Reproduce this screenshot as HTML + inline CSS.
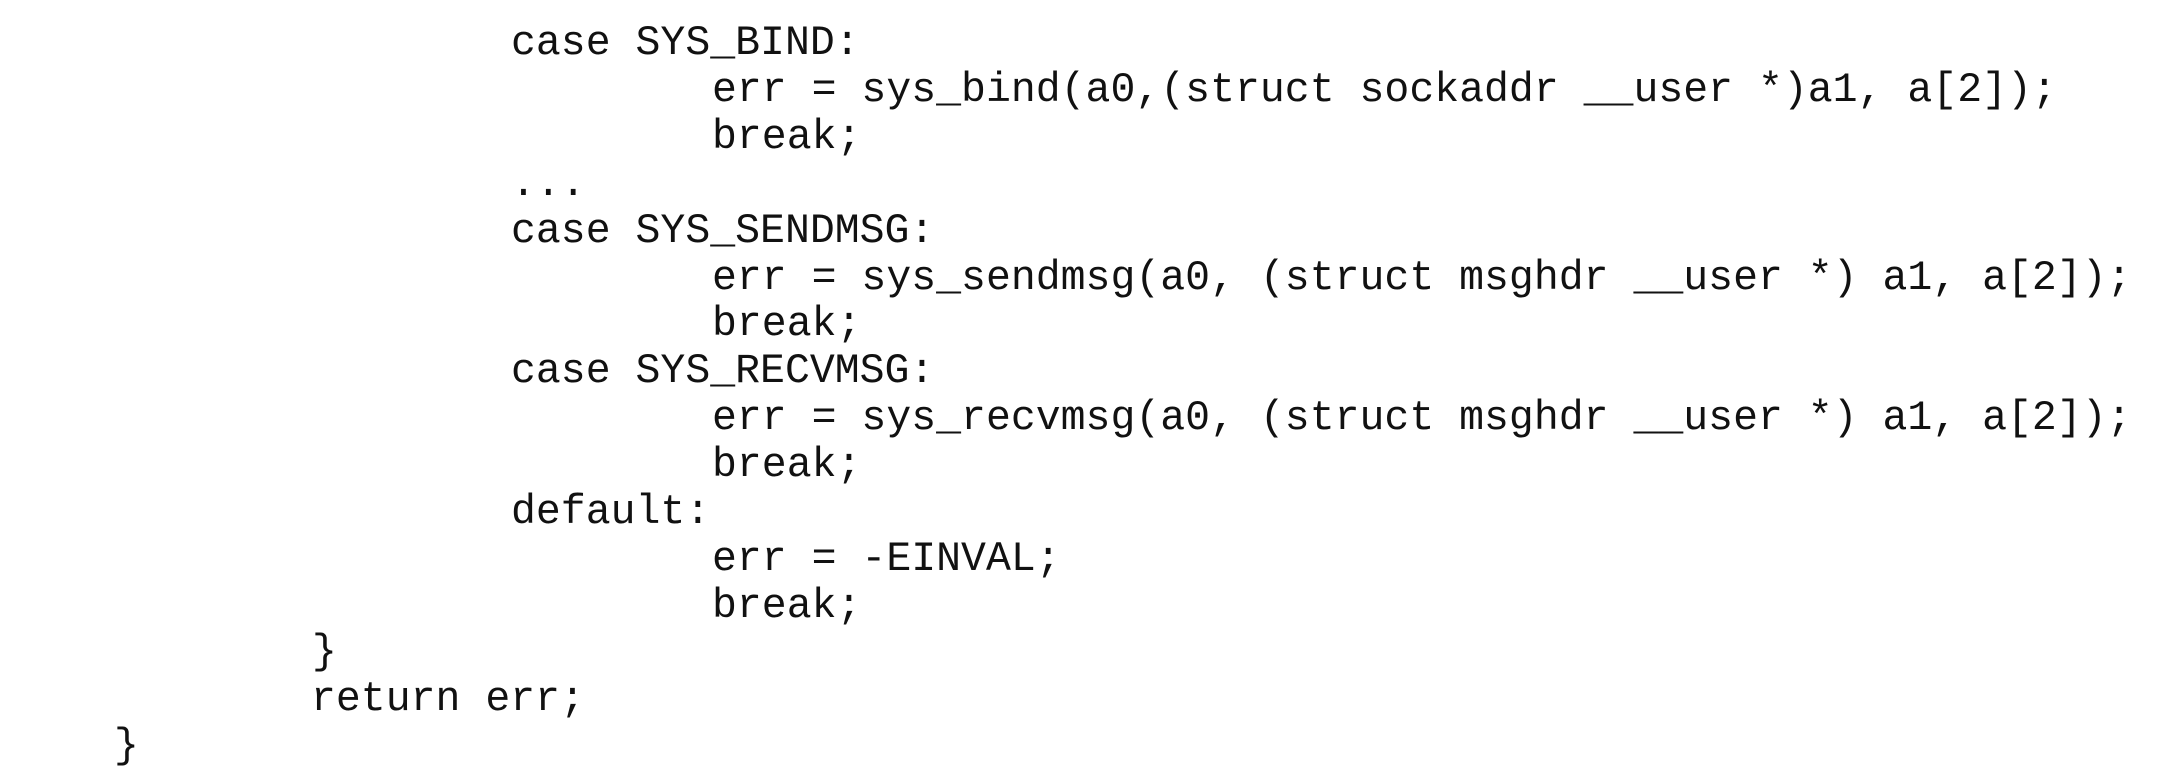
<!DOCTYPE html>
<html><head><meta charset="utf-8"><style>
html,body{margin:0;padding:0;background:#fff;width:2170px;height:781px;overflow:hidden}
svg text{font-family:"Liberation Mono",monospace;font-size:41.5px;fill:#111;white-space:pre}
</style></head><body>
<svg width="2170" height="781" xmlns="http://www.w3.org/2000/svg">
<text x="511" y="54">case SYS_BIND:</text>
<text x="712" y="101">err = sys_bind(a0,(struct sockaddr __user *)a1, a[2]);</text>
<text x="712" y="148">break;</text>
<text x="511" y="195">...</text>
<text x="511" y="242">case SYS_SENDMSG:</text>
<text x="712" y="289">err = sys_sendmsg(a0, (struct msghdr __user *) a1, a[2]);</text>
<text x="712" y="335">break;</text>
<text x="511" y="382">case SYS_RECVMSG:</text>
<text x="712" y="429">err = sys_recvmsg(a0, (struct msghdr __user *) a1, a[2]);</text>
<text x="712" y="476">break;</text>
<text x="511" y="523">default:</text>
<text x="712" y="570">err = -EINVAL;</text>
<text x="712" y="617">break;</text>
<text x="312" y="663">}</text>
<text x="311" y="710">return err;</text>
<text x="114" y="757">}</text>
</svg>
</body></html>
